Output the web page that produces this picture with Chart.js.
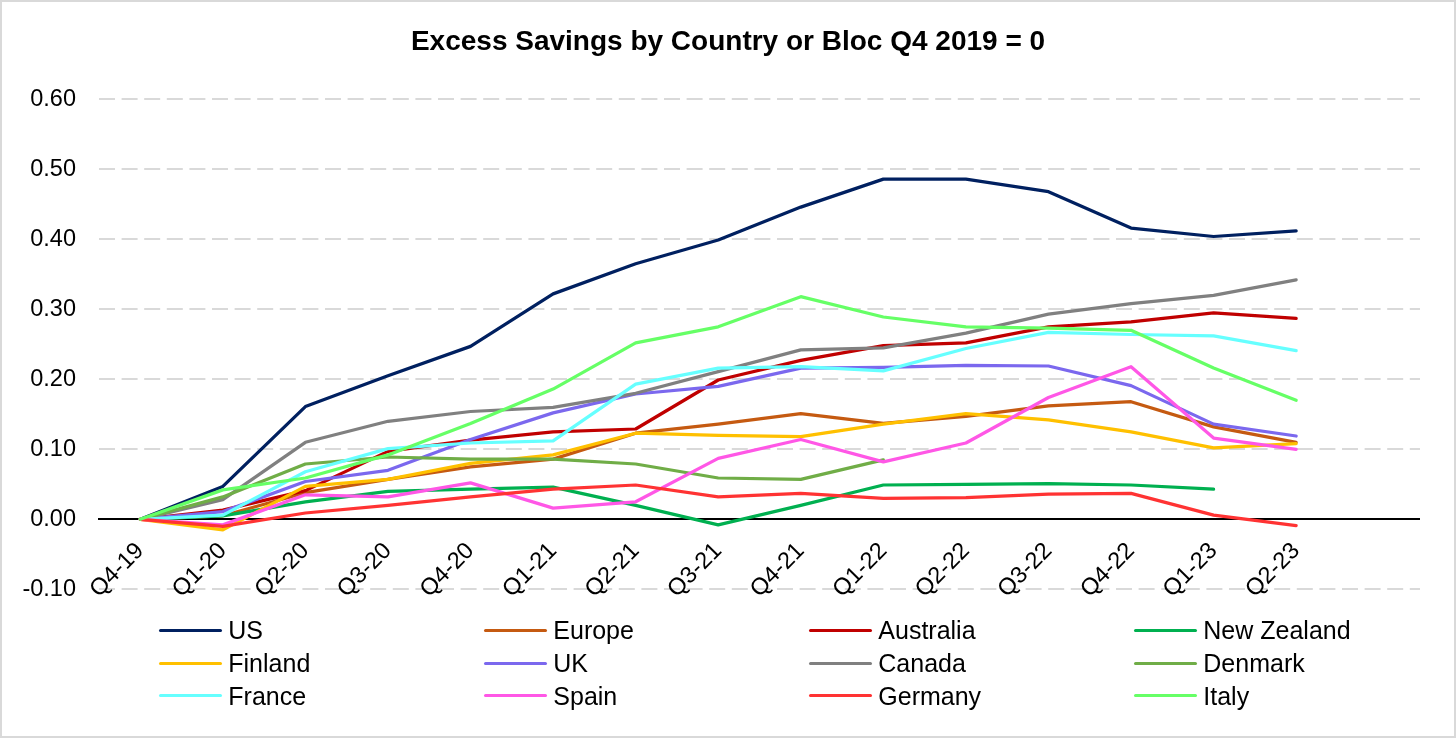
<!DOCTYPE html>
<html>
<head>
<meta charset="utf-8">
<script src="https://cdn.jsdelivr.net/npm/chart.js@4.4.0/dist/chart.umd.min.js"></script>
<style>
html,body{margin:0;padding:0;background:#fff;}
#wrap{position:relative;width:1456px;height:738px;overflow:hidden;background:#fff;}
#c{position:absolute;left:0;top:0;}
#frame{position:absolute;left:0;top:0;width:1456px;height:738px;box-sizing:border-box;border:2px solid #d9d9d9;pointer-events:none;}
#legend{position:absolute;left:0;top:0;width:1456px;height:738px;font-family:"Liberation Sans",Arial,sans-serif;font-size:25px;color:#000;pointer-events:none;}
.item{position:absolute;display:flex;align-items:center;height:30px;line-height:30px;white-space:nowrap;}
.swatch{display:inline-block;width:63px;height:3px;border-radius:1.5px;margin-right:6px;}
</style>
</head>
<body>
<div id="wrap">
  <canvas id="c" width="1456" height="738"></canvas>
  <div id="legend"></div>
  <div id="frame"></div>
</div>
<script>
// ---- data ----
const categories = ['Q4-19','Q1-20','Q2-20','Q3-20','Q4-20','Q1-21','Q2-21','Q3-21','Q4-21','Q1-22','Q2-22','Q3-22','Q4-22','Q1-23','Q2-23',''];
const seriesNames = ['US','Europe','Australia','New Zealand','Finland','UK','Canada','Denmark','France','Spain','Germany','Italy'];
const seriesColors = ['#002060','#C55A11','#C00000','#00B050','#FFC000','#7B68EE','#808080','#70AD47','#66FFFF','#FF57E6','#FF3333','#66FF66'];
const us         = [0, 0.047, 0.161, 0.205, 0.247, 0.322, 0.365, 0.399, 0.446, 0.486, 0.486, 0.468, 0.416, 0.404, 0.412];
const europe     = [0, 0.005, 0.038, 0.057, 0.075, 0.086, 0.123, 0.136, 0.151, 0.137, 0.147, 0.162, 0.168, 0.132, 0.110];
const australia  = [0, 0.013, 0.041, 0.097, 0.113, 0.125, 0.129, 0.199, 0.227, 0.248, 0.252, 0.275, 0.282, 0.295, 0.287];
const newZealand = [0, 0.005, 0.025, 0.040, 0.043, 0.046, 0.020, -0.008, 0.020, 0.049, 0.050, 0.051, 0.049, 0.043, null];
const finland    = [0, -0.015, 0.047, 0.057, 0.080, 0.092, 0.123, 0.120, 0.118, 0.136, 0.151, 0.142, 0.125, 0.102, 0.108];
const uk         = [0, 0.011, 0.054, 0.070, 0.114, 0.152, 0.179, 0.190, 0.216, 0.217, 0.220, 0.219, 0.191, 0.136, 0.119];
const canada     = [0, 0.028, 0.110, 0.140, 0.154, 0.160, 0.180, 0.211, 0.242, 0.245, 0.266, 0.293, 0.308, 0.320, 0.342];
const denmark    = [0, 0.032, 0.079, 0.089, 0.086, 0.086, 0.079, 0.059, 0.057, 0.085, null, null, null, null, null];
const france     = [0, 0.006, 0.068, 0.101, 0.109, 0.112, 0.193, 0.216, 0.218, 0.212, 0.244, 0.267, 0.264, 0.262, 0.241];
const spain      = [0, -0.008, 0.035, 0.032, 0.052, 0.016, 0.025, 0.087, 0.114, 0.082, 0.109, 0.174, 0.218, 0.116, 0.100];
const germany    = [0, -0.010, 0.009, 0.020, 0.032, 0.043, 0.049, 0.032, 0.037, 0.030, 0.031, 0.036, 0.037, 0.006, -0.009];
const italy      = [0, 0.042, 0.059, 0.092, 0.137, 0.186, 0.252, 0.275, 0.318, 0.289, 0.275, 0.273, 0.270, 0.216, 0.170];
const seriesValues = [us, europe, australia, newZealand, finland, uk, canada, denmark, france, spain, germany, italy];
const yTickMin = -0.1, yTickMax = 0.6, yTickStep = 0.1;
const titleText = 'Excess Savings by Country or Bloc Q4 2019 = 0';

// ---- chart ----
const FONT = '"Liberation Sans", Arial, sans-serif';
const N = seriesNames.length;
const datasets = seriesNames.map((name, i) => ({
  label: name,
  data: seriesValues[i],
  borderColor: seriesColors[i],
  backgroundColor: seriesColors[i],
  borderWidth: 3.25,
  pointRadius: 0,
  pointHoverRadius: 0,
  tension: 0,
  fill: false,
  spanGaps: false,
  borderJoinStyle: 'round',
  borderCapStyle: 'round',
  order: N - 1 - i
}));

new Chart(document.getElementById('c'), {
  type: 'line',
  data: { labels: categories, datasets },
  options: {
    responsive: false,
    animation: false,
    devicePixelRatio: 1,
    layout: { padding: { left: 0, right: 0, top: 0, bottom: 148.7 } },
    plugins: {
      legend: { display: false },
      tooltip: { enabled: false },
      title: {
        display: true,
        text: titleText,
        color: '#000',
        font: { family: FONT, size: 28, weight: 'bold', lineHeight: 1.2 },
        padding: { top: 25.2, bottom: 40.5 }
      }
    },
    scales: {
      x: {
        type: 'category',
        position: { y: 0 },
        offset: true,
        grid: { display: true, drawOnChartArea: false, drawTicks: false, lineWidth: 0 },
        border: { display: true, color: '#000', width: 2 },
        ticks: {
          color: '#000',
          font: { family: FONT, size: 23.5 },
          maxRotation: 45,
          minRotation: 45,
          autoSkip: false,
          padding: 18
        }
      },
      y: {
        position: 'left',
        min: yTickMin,
        max: yTickMax,
        afterFit: s => { s.width = 99; },
        grid: {
          drawTicks: false,
          lineWidth: 2,
          color: ctx => (ctx.tick && Math.abs(ctx.tick.value) < 1e-9) ? 'rgba(0,0,0,0)' : '#d9d9d9'
        },
        border: { display: false, dash: [16, 6.6] },
        ticks: {
          stepSize: yTickStep,
          color: '#000',
          padding: 23,
          font: { family: FONT, size: 23.5 },
          callback: v => (Math.abs(v) < 1e-9 ? 0 : Number(v)).toFixed(2)
        }
      },
      yPad: {
        position: 'right',
        display: true,
        afterFit: s => { s.width = 36; },
        grid: { display: false, drawTicks: false },
        border: { display: false },
        ticks: { display: false }
      }
    }
  }
});

// ---- legend (HTML, grid of 4 columns) ----
const legendCols = [159.3, 484.3, 809.3, 1134.3];
const legendRows = [630, 663, 695.5];
const legendEl = document.getElementById('legend');
seriesNames.forEach((name, i) => {
  const col = i % 4, row = Math.floor(i / 4);
  const item = document.createElement('div');
  item.className = 'item';
  item.style.left = legendCols[col] + 'px';
  item.style.top = (legendRows[row] - 15) + 'px';
  const sw = document.createElement('span');
  sw.className = 'swatch';
  sw.style.background = seriesColors[i];
  const tx = document.createElement('span');
  tx.textContent = name;
  item.appendChild(sw);
  item.appendChild(tx);
  legendEl.appendChild(item);
});
</script>
</body>
</html>
